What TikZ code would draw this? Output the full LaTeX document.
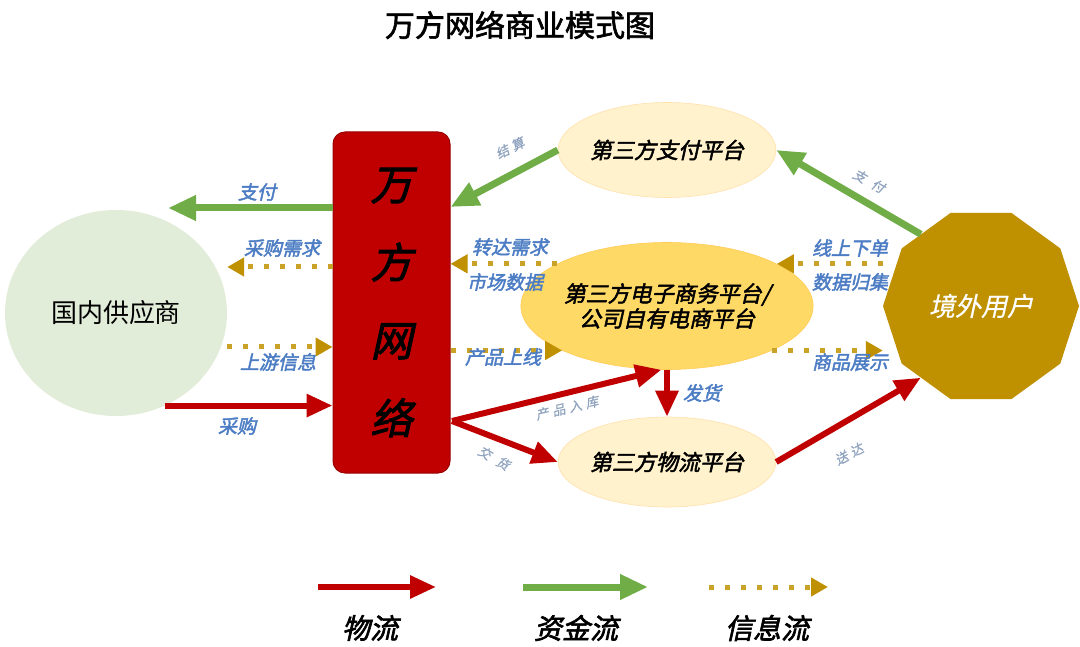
\documentclass[tikz,border=0pt]{standalone}
\usepackage{fontspec}
\setmainfont{Noto Sans CJK SC}
\newfontfamily\cjk{Noto Sans CJK SC}
\newfontfamily\cjkt{Noto Sans CJK SC}[FakeBold=2]
\newfontfamily\cjkbi{Noto Sans CJK SC}[FakeSlant=0.22,FakeBold=2.2]
\newfontfamily\cjki{Noto Sans CJK SC}[FakeSlant=0.22,FakeBold=0.6]
\usetikzlibrary{arrows.meta,shapes.geometric,calc}
\definecolor{wred}{HTML}{C00000}
\definecolor{wgreen}{HTML}{70AD47}
\definecolor{wgold}{HTML}{BF9000}
\definecolor{wdot}{HTML}{C9A227}
\definecolor{wblue}{HTML}{4C7DC4}
\definecolor{wgray}{HTML}{8FA3BF}
\definecolor{supfill}{HTML}{E2EDD9}
\definecolor{lightell}{HTML}{FFF2CC}
\definecolor{ecomfill}{HTML}{FFD966}
\newcommand{\gsp}{\hspace{4pt}}
\newcommand{\gspw}{\hspace{8pt}}
\tikzset{
  redarrow/.style={draw=wred, line width=6pt, -{Triangle[length=26pt,width=22pt]}},
  greenarrow/.style={draw=wgreen, line width=7pt, -{Triangle[length=28pt,width=24pt]}},
  infoarrow/.style={draw=wdot, line width=5pt, dash pattern=on 5pt off 11pt, -{Triangle[length=17pt,width=18pt,color=wgold]}},
  bluelabel/.style={text=wblue, font=\cjkbi\fontsize{19}{22}\selectfont, inner sep=1pt},
  graylabel/.style={text=wgray, font=\cjki\fontsize{13}{15}\selectfont, inner sep=0pt},
  lightellipse/.style={ellipse, fill=lightell, draw=lightell!85!orange, line width=0.6pt, inner sep=0pt,
     font=\cjkbi\fontsize{22}{26}\selectfont},
  legendlabel/.style={font=\cjkbi\fontsize{28}{32}\selectfont, text=black, inner sep=0pt},
}
\begin{document}
\begin{tikzpicture}[x=1pt,y=-1pt]
\useasboundingbox[fill=white] (0,0) rectangle (1080,647);

% title
\node[font=\cjkt\fontsize{30}{34}\selectfont, text=black] (title) at (520,25) {万方网络商业模式图};

% main nodes
\node[ellipse, fill=supfill, minimum width=222pt, minimum height=206pt, inner sep=0pt,
      font=\cjk\fontsize{26}{30}\selectfont, text=black] (sup) at (116,313) {国内供应商};
\node[rectangle, rounded corners=12pt, fill=wred, draw=wred!80!black, line width=1pt,
      minimum width=117pt, minimum height=341pt, inner sep=0pt, align=center,
      font=\cjkbi\fontsize{42}{78}\selectfont, text=black] (wf) at (391.5,302.5) {万\\方\\网\\络};
\node[lightellipse, minimum width=197pt, minimum height=95pt] (pay) at (667,150) {第三方支付平台};
\node[ellipse, fill=ecomfill, draw=ecomfill!85!orange, line width=0.6pt, inner sep=0pt,
      minimum width=257pt, minimum height=127pt, align=center,
      font=\cjkbi\fontsize{22}{25}\selectfont] (ecom) at (667,306) {第三方电子商务平台/\\公司自有电商平台};
\node[lightellipse, minimum width=197pt, minimum height=90pt] (log) at (667,462) {第三方物流平台};
\node[regular polygon, regular polygon sides=10, minimum size=196pt, inner sep=0pt, fill=wgold,
      font=\cjki\fontsize{26}{30}\selectfont, text=white] (dec) at (981,306) {境外用户};

% connectors
\coordinate (supTop) at (168,208);
\draw[greenarrow] (wf.west |- supTop) -- (supTop);
\draw[infoarrow] (wf.west |- 0,267) -- (sup.east |- 0,267);
\draw[infoarrow] (sup.east |- 0,347) -- (wf.west |- 0,347);
\draw[redarrow] (sup.-62) -- (wf.west |- sup.-62);

\draw[greenarrow] (pay.west) -- (wf.east |- 0,207);
\draw[infoarrow] (ecom.159) -- (wf.east |- ecom.159);
\draw[infoarrow] (wf.east |- ecom.203) -- (ecom.203);
\draw[infoarrow] (dec.west |- ecom.21) -- (ecom.21);
\draw[infoarrow] (ecom.-23) -- (dec.west |- ecom.-23);
\draw[greenarrow] (dec.130) -- (pay.east);

\coordinate (wfOut) at (452,421);
\draw[redarrow] (wfOut) -- (ecom.265);
\draw[redarrow] (wfOut) -- (log.west);
\draw[redarrow] (ecom.south) -- (log.north);
\draw[redarrow] (log.east) -- (dec.230);

% labels
\node[bluelabel] (lzf) at (257,192) {支付};
\node[bluelabel] (lcgxq) at (282,248) {采购需求};
\node[bluelabel] (lsyxx) at (278,362) {上游信息};
\node[bluelabel] (lcg) at (237,426) {采购};
\node[bluelabel] (lzdxq) at (510,247) {转达需求};
\node[bluelabel] (lscsj) at (505,282) {市场数据};
\node[bluelabel] (lcpsx) at (503,357) {产品上线};
\node[bluelabel] (lxsxd) at (850,248) {线上下单};
\node[bluelabel] (lsjgj) at (850,282) {数据归集};
\node[bluelabel] (lspzs) at (850,362) {商品展示};
\node[bluelabel] (lfh) at (702,393) {发货};

\node[graylabel, rotate=26] (ljs) at (510,148) {结\gsp 算};
\node[graylabel, rotate=-29] (lzf2) at (869,181) {支\gspw 付};
\node[graylabel, rotate=13] (lcprk) at (567,408) {产\gsp 品\gsp 入\gsp 库};
\node[graylabel, rotate=-30] (ljh) at (494,458) {交\gspw 货};
\node[graylabel, rotate=28] (lsd) at (849,454) {送\gsp 达};

% legend
\coordinate (lr1) at (318,587); \coordinate (lr2) at (436,587);
\coordinate (lg1) at (523,587); \coordinate (lg2) at (648,587);
\coordinate (lo1) at (709,587); \coordinate (lo2) at (828,587);
\draw[redarrow] (lr1) -- (lr2);
\draw[greenarrow] (lg1) -- (lg2);
\draw[infoarrow] (lo1) -- (lo2);
\node[legendlabel] (lgw) at (370,628) {物流};
\node[legendlabel] (lgz) at (576,628) {资金流};
\node[legendlabel] (lgx) at (767,628) {信息流};
\end{tikzpicture}
\end{document}
